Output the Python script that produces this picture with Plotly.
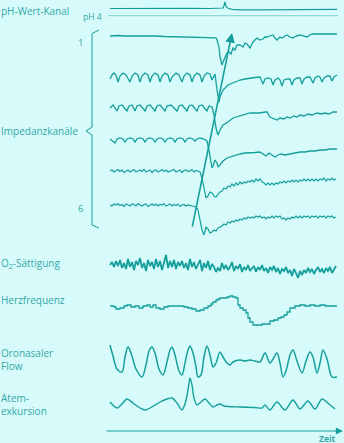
import plotly.graph_objects as go

# ---------------- data (time in chart units, signal values in display units) -------------
ph_time = [110, 130, 150, 170, 190, 210, 220, 223, 224, 225, 226, 228, 232, 240, 260, 280, 300, 320, 337]
ph_vals = [0, 0.2, 0, 0.3, 0.1, 0, 0.1, 0.5, 3, 6.5, 2, 0.2, -0.8, -1.3, -1.4, -1.1, -0.9, -1.0, -0.9]

imp1_time = [110, 118, 125, 135, 145, 155, 165, 175, 185, 195, 205, 213, 216, 217, 219, 220, 222, 223, 225, 227, 229, 231, 233, 235, 237, 240, 243, 245, 247, 250, 252, 253, 255, 257, 260, 263, 265, 267, 270, 273, 275, 277, 280, 282, 285, 287, 290, 293, 296, 300, 303, 307, 310, 312, 320, 337]
imp1_vals = [0, 0.5, 0, 0.2, -0.3, 0, -0.5, -0.8, -1, -1.5, -1.6, -1.5, -1.8, -4, -11, -21, -29, -26, -21, -17, -16, -18, -12, -14, -9, -9, -11, -7, -8, -12, -8, -6, -4, -2, -4, -3, -1, -1, 0, 1, -2, -4, -1, -2, 0, 1, -1, -2, 0, 1, 0, -1, 1, 2, 2, 2]

imp2_time = [110, 112, 114, 116, 118, 120, 123, 126, 130, 132, 135, 138, 140, 142, 145, 148, 150, 152, 155, 158, 160, 162, 165, 168, 170, 172, 176, 179, 182, 184, 187, 190, 192, 194, 197, 200, 202, 204, 207, 210, 212, 214, 215, 217, 219, 220, 223, 228, 233, 240, 245, 250, 255, 260, 263, 265, 268, 271, 273, 275, 278, 280, 282, 284, 287, 290, 292, 294, 297, 300, 302, 304, 307, 310, 313, 315, 318, 320, 322, 324, 327, 330, 332, 334, 337]
imp2_vals = [-2, 2, 4, 2, -5, 1, 4, 2, -5, 1, 4, 2, -5, 1, 4, 2, -5, 1, 4, 2, -5, 1, 4, 2, -5, 0, 4, 2, -5, 1, 4, 2, -5, 1, 4, 2, -5, 1, 4, 3, -3, 2, 3, -13, -25, -20, -13, -8, -6, -3, -2, -1, -0.5, 0, -7, -2, -1, -2, -8, -3, -1, -3, -9, -3, -2, -2, -8, -3, -1, -1, -7, -2, 0, 0, -6, -1, 1, 0, -5, -1, 1, 1, -4, 0, 2]

imp3_time = [110, 113, 117, 119, 122, 127, 129, 132, 135, 137, 140, 145, 147, 150, 155, 157, 160, 165, 167, 171, 177, 179, 182, 187, 189, 192, 197, 199, 202, 207, 209, 212, 214, 216, 218, 220, 223, 228, 233, 240, 245, 250, 255, 260, 265, 267, 270, 274, 277, 280, 284, 287, 290, 294, 297, 300, 304, 308, 312, 317, 321, 325, 329, 333, 337]
imp3_vals = [-1, 2, -4, 1, 2, -4, 1, 2, -4, 1, 2, -4, 1, 2, -4, 1, 2, -4, 1, 2, -4, 1, 2, -4, 1, 2, -4, 1, 2, -4, 1, 0, -8, -21, -28, -23, -18, -15, -11, -9, -7, -6, -6, -6, -5, -5, -10, -12, -13, -11, -12, -10, -11, -9, -10, -8, -9, -7, -8, -6, -7, -6, -7, -5, -5]

imp4_time = [110, 112, 115, 117, 120, 123, 125, 127, 130, 133, 135, 137, 140, 143, 145, 147, 150, 153, 155, 157, 160, 163, 165, 167, 170, 173, 175, 177, 180, 183, 185, 187, 190, 193, 195, 197, 200, 204, 207, 209, 211, 212, 213, 215, 217, 218, 220, 223, 227, 230, 235, 240, 245, 250, 255, 260, 263, 266, 269, 272, 275, 278, 281, 285, 290, 295, 300, 305, 310, 315, 320, 325, 330, 337]
imp4_vals = [1, -1, -3, 1, 2, 1, -2, 1, 2, 1, -2, 1, 2, 1, -2, 1, 2, 1, -2, 1, 2, 1, -2, 1, 2, 1, -2, 1, 2, 1, -2, 1, 2, 1, -1, 1, 2, 1, -1, -10, -22, -28, -26, -20, -23, -27, -25, -21, -18, -17, -15, -14, -13, -13, -12.5, -12, -14, -16, -13, -15, -17, -15, -14, -15, -14, -13, -12, -12, -11, -11, -10, -10, -9, -9]

imp5_vals = [0, 1, -1, 0.5, 1.5, -0.5, 1, -1.5, 0, 1, -1, 0.5, 1.5, -1, 0, 1, -0.5, 1.5, -1, 0, 1, -1.5, 0.5, 1, -1, 0, 1.5, -0.5, 1, -1, 0, 0.5, 1.5, -1, 0, 1, -1.5, 0.5, 1, -0.5, 0, 1.5, -1, 0.5, 0, -1,
             -7, -18, -27, -25, -21, -22, -25, -26, -23, -21, -20, -17, -18, -15, -16, -13, -15, -12, -14, -11, -13, -11, -12, -10, -11, -9, -11, -8, -10, -8, -11, -12, -14, -12, -14, -12, -14, -12, -13, -11, -12, -10, -12, -10, -11, -9, -11, -9, -11, -9, -10, -8, -10, -8, -10, -8, -10, -8, -10, -8, -9, -7, -10, -8, -9, -7, -9, -8]

imp6_vals = [0, -1, 1, 0, 1.5, -0.5, 0.5, -1.5, 1, 0, -1, 1, 0.5, -1, 1.5, 0, -1, 0.5, 1, -1.5, 0, 1, -0.5, 1, -1, 0.5, 0, 1.5, -1, 0, 1, -1, 0.5, -0.5, 1, -1.5, 0, 0.5, -1, 0, -0.5, -1, -1.5, -2,
             -5, -15, -25, -30, -22, -24, -28, -27, -25, -26, -23, -22, -21, -19, -20, -17, -18, -16, -17, -15, -16, -14, -15, -13, -14, -12, -13, -12, -13, -11, -12, -11, -13, -12, -14, -12, -13, -11, -13, -11, -12, -11, -14, -13, -15, -13, -14, -12, -13, -11, -13, -11, -13, -11, -12, -11, -13, -11, -12, -11, -13, -11, -12, -11, -13, -11, -12, -11, -13, -12]

o2_vals = [0, 3, -2, 4, -1, 5, -3, 2, -4, 6, -2, 3, -5, 4, 0, 7, -3, 2, -6, 5, -1, 3, -4, 6, -2, 4, -5, 3, 10, -3, 4, -2, 5, -4, 3, -1, 4, -3, 2, -5, 6, -2, 3, -4, 1, 5, -6, 2, -3, 4, -5, 1, -2, -7, -3, -6, 2, -4, 0, -5, -2, 3, -6, -1, -4, 1, -7, -2, -5, 0, -6, -3, -1, -7, -2, -5, 0, -6, -3, -8, -2, -5, -1, -7, -3, -9, -4, -6, -2, -8, -5, -11, -4, -8, -13, -6, -10, -5, -8, -3, -7, -4, -9, -5, -2, -7, -4, -8, -3, -6, -2, -8, -4, -1]

hr_time = [110, 114, 116, 120, 124, 127, 131, 135, 139, 143, 147, 150, 153, 156, 160, 164, 168, 172, 178, 184, 188, 192, 196, 200, 204, 208, 211, 213, 216, 218, 220, 224, 227, 230, 233, 236, 238, 240, 243, 246, 248, 250, 253, 258, 262, 266, 270, 274, 278, 281, 284, 287, 290, 295, 300, 305, 310, 315, 320, 325, 330, 337]
hr_vals = [0, -1, -3, -2, 0, 1, -1, 0, -2, 0, 1, -1, 1, -2, -3, -1, 0, 0, 0, -1, -2, -3, -5, -4, -2, 0, 2, 4, 6, 7, 8, 8, 9, 10, 9, 8, 1, -2, -4, -7, -12, -16, -19, -19, -18, -18, -15, -14, -12, -11, -9, -6, -2, 0, 1, 0, 1, 0, 1, 0, 0, 0]

flow_time = [110, 113, 117, 122, 125, 128, 131, 136, 142, 146, 149, 152, 155, 159, 163, 167, 170, 172, 175, 179, 182, 185, 188, 190, 193, 196, 198, 201, 204, 207, 210, 213, 216, 220, 223, 227, 230, 233, 240, 245, 250, 255, 260, 265, 270, 273, 277, 280, 283, 286, 290, 293, 297, 302, 306, 310, 313, 317, 320, 323, 327, 332, 337]
flow_vals = [32, 21, 8, 5, 20, 30, 24, 8, 0, 12, 26, 30, 24, 8, 2, 15, 27, 30, 22, 6, 2, 14, 27, 31, 24, 10, 0, 2, 20, 31, 22, 10, 14, 25, 20, 14, 12, 15, 17, 16, 17, 16, 15, 24, 14, 18, 24, 14, 0, 6, 22, 27, 16, 4, 16, 25, 20, 4, 14, 27, 18, 0, 0]

resp_time = [110, 117, 121, 127, 133, 140, 145, 152, 160, 167, 172, 177, 182, 185, 188, 190, 192, 194, 197, 201, 205, 209, 213, 217, 220, 224, 240, 255, 262, 265, 270, 277, 285, 293, 300, 308, 315, 322, 329, 335]
resp_vals = [8, 2, 5, 11, 7, 2, 0, 3, 8, 11, 12, 7, 0, 6, 20, 32, 25, 12, 5, 8, 11, 7, 3, 5, 6, 4, 3, 2.5, 2, 5, 0, 8, 0, 10, 1, 9, 1, 11, 6, 1]

# ---------------- layout constants ----------------
W, H = 344, 443
BG = "#d7fbfb"
LINE = "#149f9b"
TEXT = "#33a8a6"
FONT = "Open Sans"

baselines = {"ph": 8.5, "imp1": 36, "imp2": 77, "imp3": 107, "imp4": 140, "imp5": 171, "imp6": 205,
             "o2": 265, "hr": 306, "flow": 377, "resp": 410}


def grid(vals, start=110, step=2):
    return [start + i * step for i in range(len(vals))]


fig = go.Figure()


def add(t, v, key, width=1.3, shape="linear", smoothing=None):
    base = baselines[key]
    line = dict(color=LINE, width=width, shape=shape)
    if smoothing is not None:
        line["smoothing"] = smoothing
    fig.add_trace(go.Scatter(x=t, y=[base - val for val in v], mode="lines", line=line,
                             hoverinfo="skip", showlegend=False))


add(ph_time, ph_vals, "ph", 1.2)
add(imp1_time, imp1_vals, "imp1")
add(imp2_time, imp2_vals, "imp2")
add(imp3_time, imp3_vals, "imp3")
add(imp4_time, imp4_vals, "imp4")
add(grid(imp5_vals), imp5_vals, "imp5", 1.2)
add(grid(imp6_vals), imp6_vals, "imp6", 1.2)
add(grid(o2_vals), o2_vals, "o2", 1.8)
add(hr_time, hr_vals, "hr", 1.3, shape="hv")
add(flow_time, flow_vals, "flow", 1.5, shape="spline", smoothing=0.9)
add(resp_time, resp_vals, "resp", 1.4, shape="spline", smoothing=0.8)

# pH 4 reference line
fig.add_shape(type="line", x0=108, x1=338, y0=15.7, y1=15.7, line=dict(color="#7fcfcf", width=1))

# bracket for impedance channels
fig.add_shape(type="path", path="M 99 30 L 92 33.5 L 92 127 L 86 131 L 92 135 L 92 225 L 99 228",
              line=dict(color=LINE, width=1))

# diagonal arrow
fig.add_annotation(x=232, y=33, ax=192, ay=228, xref="x", yref="y", axref="x", ayref="y",
                   text="", showarrow=True, arrowhead=2, arrowsize=1.2, arrowwidth=1.6, arrowcolor=LINE)
# time axis arrow
fig.add_annotation(x=343, y=431, ax=105, ay=431, xref="x", yref="y", axref="x", ayref="y",
                   text="", showarrow=True, arrowhead=2, arrowsize=1.2, arrowwidth=1.2, arrowcolor=LINE)


def label(x, y, text, size=10, anchor="left", bold=False):
    fig.add_annotation(x=x, y=y, xref="x", yref="y", text=f"<b>{text}</b>" if bold else text,
                       showarrow=False, xanchor=anchor, yanchor="middle",
                       font=dict(family=FONT, size=size, color=TEXT), align="left",
                       xshift=-2 if anchor == "left" else 0)


label(1, 11, "pH-Wert-Kanal")
label(104, 16.5, "pH 4", size=8.5, anchor="right")
label(80, 42, "1", size=9.5, anchor="center")
label(80, 208, "6", size=9.5, anchor="center")
label(1, 131, "Impedanzkanäle")
label(1, 263, "O<sub>2</sub>-Sättigung")
label(1, 300, "Herzfrequenz")
label(1, 359, "Oronasaler<br>Flow")
label(1, 404, "Atem-<br>exkursion")
label(327, 438.5, "Zeit", size=8.5, anchor="center", bold=True)

fig.update_layout(width=W, height=H, margin=dict(l=0, r=0, t=0, b=0),
                  paper_bgcolor=BG, plot_bgcolor=BG, showlegend=False)
fig.update_xaxes(range=[0, W], visible=False, fixedrange=True)
fig.update_yaxes(range=[H, 0], visible=False, fixedrange=True)

fig.write_html("out.html", config={"displayModeBar": False},
               post_script="document.body.style.margin='0';document.body.style.overflow='hidden';"
                           "document.body.style.background='" + BG + "';")
